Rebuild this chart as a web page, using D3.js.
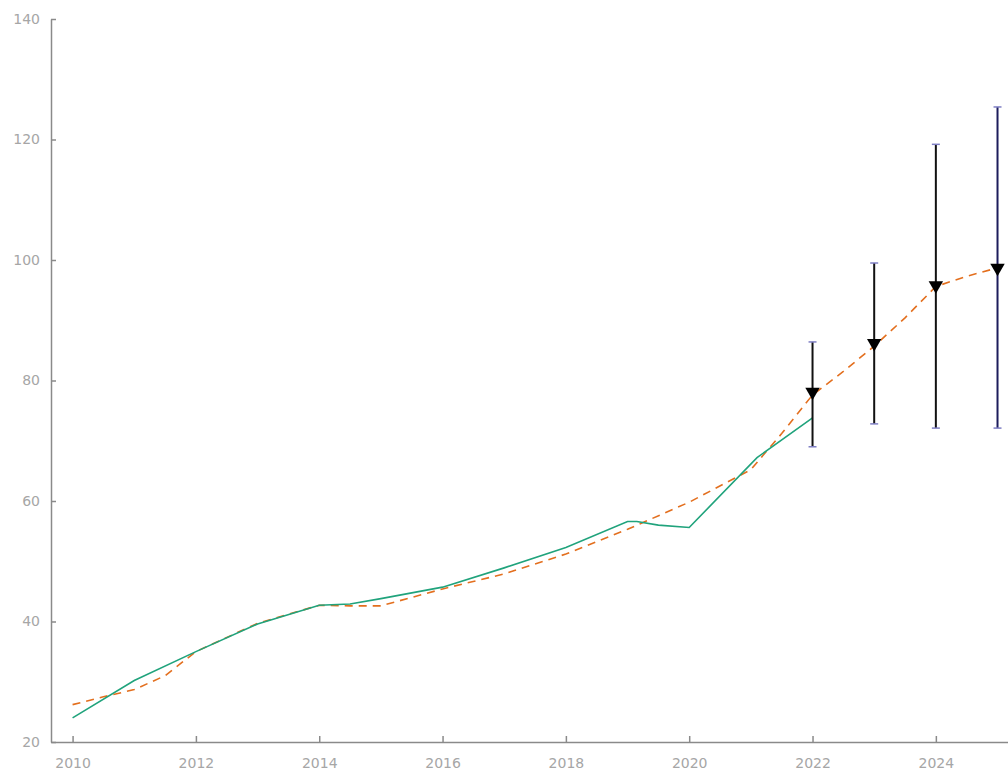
<!DOCTYPE html>
<html>
<head>
<meta charset="utf-8">
<script src="https://cdn.jsdelivr.net/npm/d3@7"></script>
<style>
  body { margin: 0; background: #fff; }
  svg { display: block; }
  .tick text { font-family: "DejaVu Sans", Verdana, sans-serif; font-size: 14px; fill: #a6a6a6; }
</style>
</head>
<body>
<svg width="1008" height="771"></svg>
<script>
const width = 1008
const height = 771

// observed series (green)
const actualYears = [2010, 2011, 2012, 2013, 2014, 2014.5, 2015, 2016, 2017, 2018, 2019, 2019.15, 2019.5, 2020, 2021.1, 2022]
const actualValues = [24.0, 30.2, 35.0, 39.6, 42.7, 42.9, 43.8, 45.7, 48.9, 52.3, 56.6, 56.6, 56.0, 55.6, 67.2, 73.8]

// fitted / projected series (orange dashed)
const fitYears = [2010, 2010.5, 2011, 2011.5, 2012, 2013, 2014, 2014.5, 2015, 2016, 2017, 2018, 2019, 2020, 2021, 2021.5, 2022, 2022.5, 2023, 2023.5, 2024, 2024.5, 2025]
const fitValues = [26.2, 27.5, 28.7, 31.0, 35.0, 39.7, 42.7, 42.6, 42.6, 45.4, 47.9, 51.2, 55.3, 59.8, 65.2, 71.2, 77.6, 81.5, 85.7, 90.4, 95.6, 97.3, 98.7]

// forecast points with intervals
const fcYears = [2022, 2023, 2024, 2025]
const fcMid = [78.1, 86.2, 95.8, 98.7]
const fcLow = [69.0, 72.8, 72.1, 72.1]
const fcHigh = [86.4, 99.5, 119.2, 125.4]

const xTicks = [2010, 2012, 2014, 2016, 2018, 2020, 2022, 2024]
const yTicks = [20, 40, 60, 80, 100, 120, 140]

const svg = d3.select("svg")

const x = d3.scaleLinear()
  .domain([2009.65, 2025.17])
  .range([51, width])

const y = d3.scaleLinear()
  .domain([20, 140])
  .range([742, 19])

// axes
const yAxis = svg.append("g")
  .attr("transform", "translate(" + x.range()[0] + ",0)")
  .call(d3.axisRight(y).tickValues(yTicks).tickSize(5).tickSizeOuter(0).tickFormat(d3.format("d")))
yAxis.selectAll("text").attr("x", -11).attr("text-anchor", "end")

const xAxis = svg.append("g")
  .attr("transform", "translate(0," + y.range()[0] + ")")
  .call(d3.axisTop(x).tickValues(xTicks).tickSize(6).tickSizeOuter(0).tickFormat(d3.format("d")))
xAxis.selectAll("text").attr("y", 26)

svg.selectAll(".domain, .tick line").attr("stroke", "#8a8a8a").attr("stroke-width", 1.5)

// lines
const fitLine = d3.line().x(d => x(d[0])).y(d => y(d[1]))

svg.append("path")
  .datum(fitYears.map((yr, i) => [yr, fitValues[i]]))
  .attr("fill", "none")
  .attr("stroke", "#e36f1e")
  .attr("stroke-width", 1.6)
  .attr("stroke-dasharray", "8,6")
  .attr("d", fitLine)

svg.append("path")
  .datum(actualYears.map((yr, i) => [yr, actualValues[i]]))
  .attr("fill", "none")
  .attr("stroke", "#20a37c")
  .attr("stroke-width", 1.6)
  .attr("d", fitLine)

// error bars
const fc = fcYears.map((yr, i) => ({ yr: yr, mid: fcMid[i], lo: fcLow[i], hi: fcHigh[i], last: i == fcYears.length - 1 }))

svg.selectAll(".bar").data(fc).enter().append("line")
  .attr("x1", d => x(d.yr)).attr("x2", d => x(d.yr))
  .attr("y1", d => y(d.lo)).attr("y2", d => y(d.hi))
  .attr("stroke", d => d.last ? "#1c1c5c" : "#111")
  .attr("stroke-width", 2)

fc.forEach(d => {
  [d.lo, d.hi].forEach(v => {
    svg.append("line")
      .attr("x1", x(d.yr) - 4).attr("x2", x(d.yr) + 4)
      .attr("y1", y(v)).attr("y2", y(v))
      .attr("stroke", "#7f7fc4")
      .attr("stroke-width", 1.5)
  })
})

// down triangles
const tri = d3.symbol().type(d3.symbolTriangle).size(90)
svg.selectAll(".mark").data(fc).enter().append("path")
  .attr("d", tri)
  .attr("transform", d => "translate(" + x(d.yr) + "," + y(d.mid) + ") rotate(180)")
  .attr("fill", "#000")
</script>
</body>
</html>
